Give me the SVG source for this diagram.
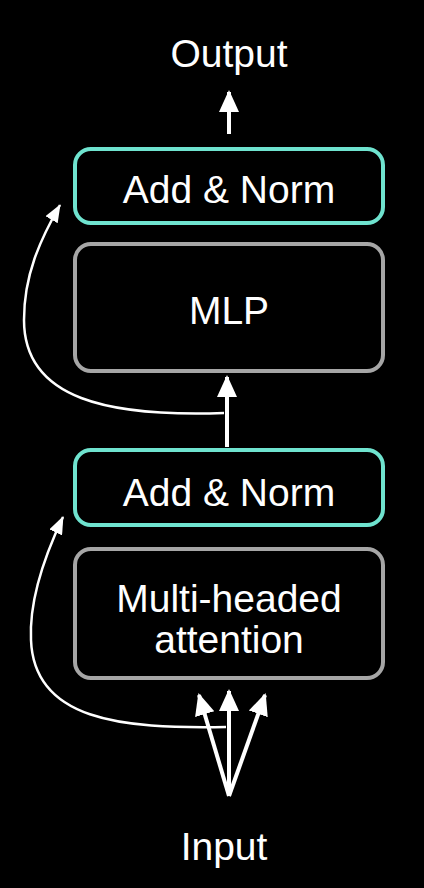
<svg xmlns="http://www.w3.org/2000/svg" width="424" height="888" viewBox="0 0 424 888">
<defs>
<style>
.lbl{font-family:"Liberation Sans",Arial,Helvetica,sans-serif;font-size:39px;fill:#ffffff;text-anchor:middle}
.an{fill:#000000;stroke:#6fe3cf;stroke-width:4}
.blk{fill:#000000;stroke:#a6a6a6;stroke-width:4}
.thick{fill:none;stroke:#ffffff;stroke-width:4}
.thin{fill:none;stroke:#ffffff;stroke-width:2.5}
</style>
<marker id="big" markerUnits="userSpaceOnUse" markerWidth="22" markerHeight="22" viewBox="0 0 22 22" refX="20" refY="11" orient="auto">
<path d="M0,1 L22,11 L0,21 Z" fill="#ffffff"/>
</marker>
<marker id="small" markerUnits="userSpaceOnUse" markerWidth="18" markerHeight="14" viewBox="0 0 18 14" refX="17" refY="7" orient="auto">
<path d="M0,0 L18,7 L0,14 Z" fill="#ffffff"/>
</marker>
</defs>
<rect width="424" height="888" fill="#000000"/>
<g id="connectors">
<path class="thick" d="M229,134 L229,92" marker-end="url(#big)"/>
<path class="thick" d="M227,447 L227,377" marker-end="url(#big)"/>
<path class="thin" d="M224,413 C110,417 24,400 24,320 C24,275 40,240 60,205" marker-end="url(#small)"/>
<path class="thin" d="M226,727 C120,729 34,720 31,640 C29,600 45,555 63,517" marker-end="url(#small)"/>
<path class="thick" d="M229,796 L229,691" marker-end="url(#big)"/>
<path class="thick" d="M229,796 L199,695" marker-end="url(#big)"/>
<path class="thick" d="M229,796 L265,695" marker-end="url(#big)"/>
</g>
<g id="output"><text class="lbl" x="229" y="67">Output</text></g>
<g id="addnorm2"><rect class="an" x="75" y="149" width="308" height="74" rx="16"/><text class="lbl" x="229" y="203">Add &amp; Norm</text></g>
<g id="mlp"><rect class="blk" x="75" y="244" width="308" height="127" rx="16"/><text class="lbl" x="229" y="324">MLP</text></g>
<g id="addnorm1"><rect class="an" x="75" y="450" width="308" height="75" rx="16"/><text class="lbl" x="229" y="506">Add &amp; Norm</text></g>
<g id="mha"><rect class="blk" x="75" y="549" width="308" height="129" rx="16"/><text class="lbl" x="229" y="612">Multi-headed</text><text class="lbl" x="229" y="653">attention</text></g>
<g id="input"><text class="lbl" x="224" y="860">Input</text></g>
</svg>
